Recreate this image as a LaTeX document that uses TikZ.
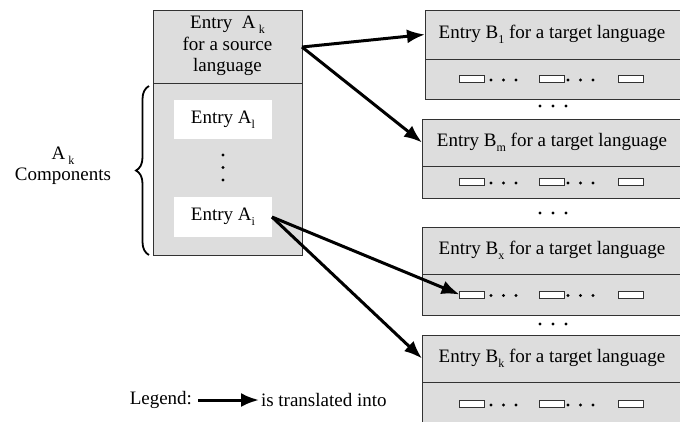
\documentclass[tikz,border=0pt]{standalone}
\usepackage{fontspec}
\setmainfont{Liberation Serif}
\usetikzlibrary{arrows.meta,decorations.pathreplacing}
\definecolor{boxgray}{RGB}{221,221,221}
\definecolor{edgegray}{RGB}{50,50,50}
\newcommand\lowsub[1]{\raisebox{-5pt}{\fontsize{12}{12}\selectfont #1}}
\begin{document}
\begin{tikzpicture}[x=1pt,y=-1pt,
  every node/.style={font=\rmfamily\fontsize{19}{21}\selectfont, inner sep=0pt, outer sep=0pt},
  graybox/.style={draw=edgegray, line width=1pt, fill=boxgray},
  whitebox/.style={fill=white, draw=none},
  slot/.style={draw=edgegray, line width=0.9pt, fill=white, minimum width=25pt, minimum height=7pt},
  conn/.style={line width=3pt, -{Latex[length=18pt,width=14pt]}}]
\useasboundingbox (0,0) rectangle (680,421);
\begin{scope}
\clip (0,0) rectangle (680,421);
% left box
\node[graybox, minimum width=149pt, minimum height=73pt] (Ah) at (227.5,46.5) {};
\node[graybox, minimum width=149pt, minimum height=172pt] (Ac) at (227.5,169) {};
\node[align=center, font=\rmfamily\fontsize{19}{21.5}\selectfont] (Aht) at (227.5,46) {Entry~~A\,\lowsub{k}\\for a source\\language};
\node[whitebox, minimum width=98pt, minimum height=39pt] (A1) at (223,119.5) {Entry A\lowsub{l}};
\node[whitebox, minimum width=98pt, minimum height=40pt] (Ai) at (223,217) {Entry A\lowsub{i}};
\foreach \yy [count=\n] in {155,167.5,180} \node[fill=black, circle, minimum size=3.4pt] (vd\n) at (223,\yy) {};
% brace and label
\draw[line width=1.8pt, decorate, decoration={brace, amplitude=13pt}] (149,255) -- (149,86);
\node[align=center] (Alab) at (63,166) {A\,\lowsub{k}\\Components};
% right boxes
\foreach \nm/\lab/\top/\dv/\bot/\lx in {B1/1/10/59/99/425, Bm/m/119/166/198/422, Bx/x/227/274/315/422, Bk/k/335/382/426/422}{
  \node[graybox, anchor=north west, minimum width={690-\lx}, minimum height={\dv-\top}] (\nm h) at (\lx,\top) {};
  \node[graybox, anchor=north west, minimum width={690-\lx}, minimum height={\bot-\dv}] (\nm b) at (\lx,\dv) {};
  \node (\nm t) at (552,{(\top+\dv)/2}) {Entry B\lowsub{\lab} for a target language};
  \node[slot] (\nm s1) at (472,{(\dv+\bot)/2}) {};
  \node[slot] (\nm s2) at (552,{(\dv+\bot)/2}) {};
  \node[slot] (\nm s3) at (631,{(\dv+\bot)/2}) {};
  \foreach \dx [count=\k] in {491,503.5,516} \node[fill=black, circle, minimum size=3.2pt] (\nm da\k) at (\dx,{(\dv+\bot)/2+1}) {};
  \foreach \dx [count=\k] in {568,580.5,593} \node[fill=black, circle, minimum size=3.2pt] (\nm db\k) at (\dx,{(\dv+\bot)/2+1}) {};
}
% dots between boxes
\foreach \yy [count=\m] in {106,213,324}{
  \foreach \dx [count=\k] in {540,553,566} \node[fill=black, circle, minimum size=3.4pt] (gap\m\k) at (\dx,\yy) {};
}
% connectors
\coordinate (Aout) at (302,47);
\draw[conn] (Aout) -- (B1h.west);
\draw[conn] (Aout) -- (Bmh.west);
\draw[conn] (Ai.east) -- (Bxs1.west);
\draw[conn] (Ai.east) -- (Bkh.west);
% legend
\node[anchor=east] (leg) at (192,400) {Legend:};
\coordinate (l1) at (198,400);
\coordinate (l2) at (259,400);
\draw[conn] (l1) -- (l2);
\node[anchor=west] (legt) at (261,400) {is translated into};
\end{scope}
\end{tikzpicture}
\end{document}
